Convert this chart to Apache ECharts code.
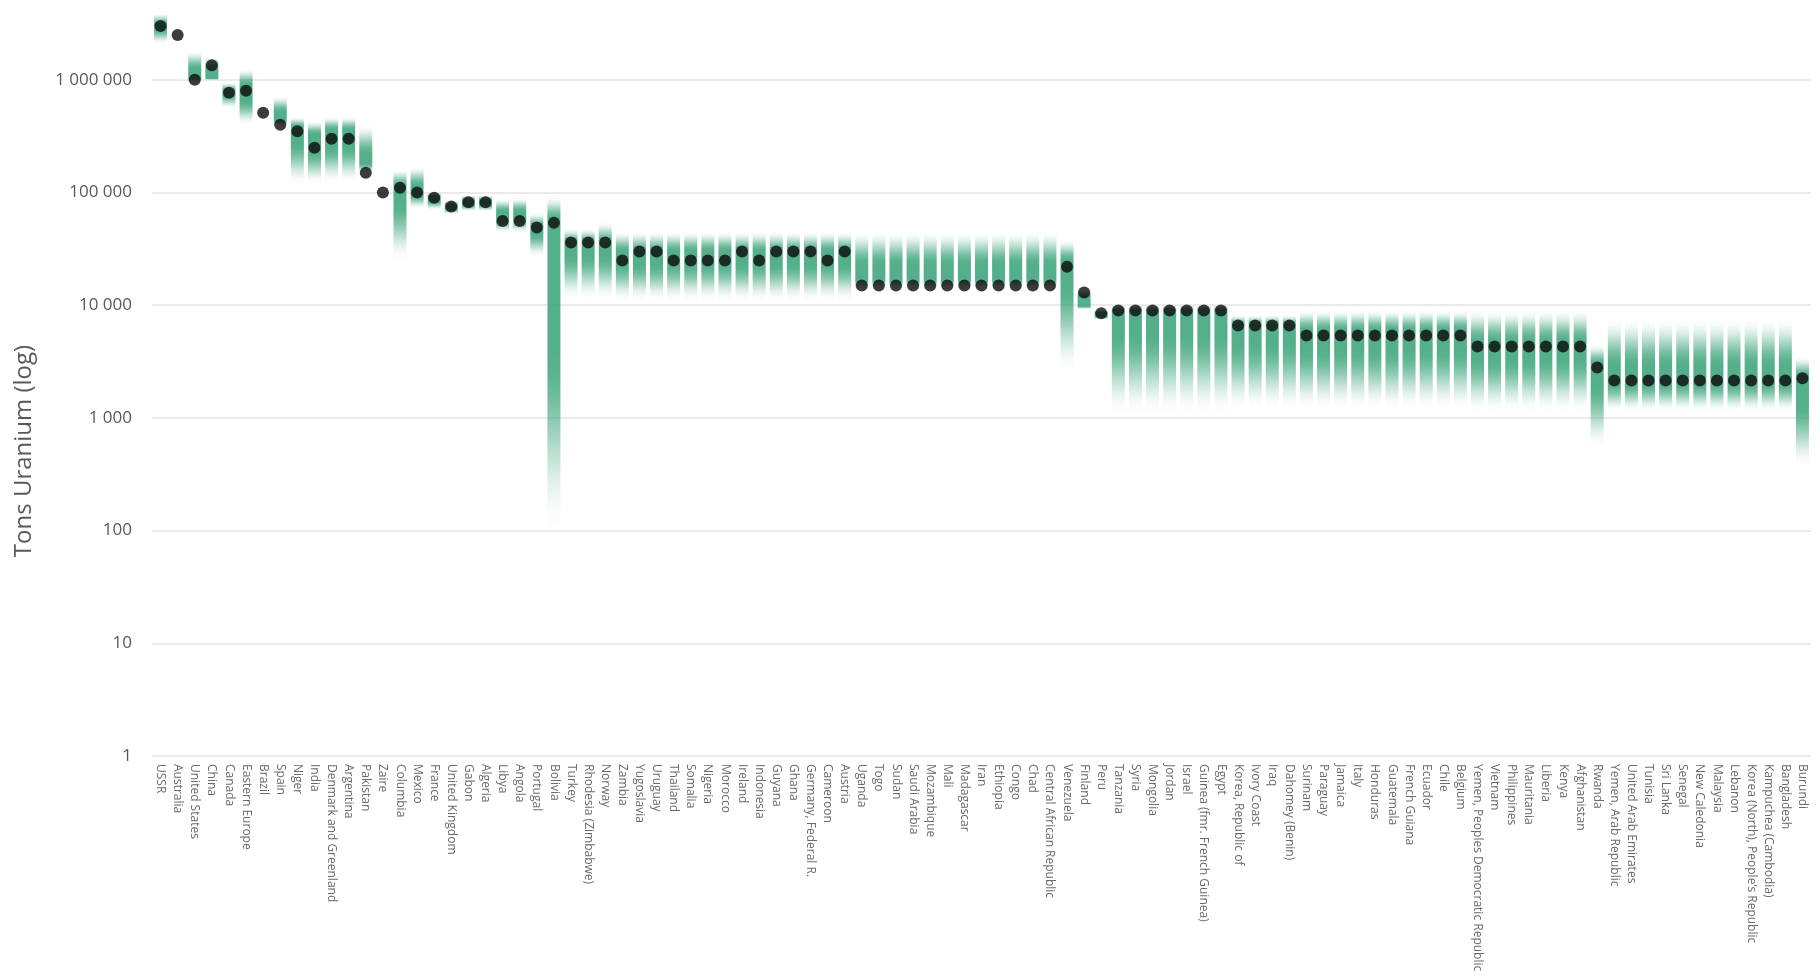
<!DOCTYPE html>
<html><head><meta charset="utf-8">
<script src="https://cdn.jsdelivr.net/npm/echarts@6/dist/echarts.min.js"></script>
<style>html,body{margin:0;padding:0;background:#fff}#c{width:1820px;height:977px}</style>
</head><body><div id="c"></div>
<script>
const categories = ["USSR","Australia","United States","China","Canada","Eastern Europe","Brazil","Spain","Niger","India","Denmark and Greenland","Argentina","Pakistan","Zaire","Columbia","Mexico","France","United Kingdom","Gabon","Algeria","Libya","Angola","Portugal","Bolivia","Turkey","Rhodesia (Zimbabwe)","Norway","Zambia","Yugoslavia","Uruguay","Thailand","Somalia","Nigeria","Morocco","Ireland","Indonesia","Guyana","Ghana","Germany, Federal R.","Cameroon","Austria","Uganda","Togo","Sudan","Saudi Arabia","Mozambique","Mali","Madagascar","Iran","Ethiopia","Congo","Chad","Central African Republic","Venezuela","Finland","Peru","Tanzania","Syria","Mongolia","Jordan","Israel","Guinea (fmr. French Guinea)","Egypt","Korea, Republic of","Ivory Coast","Iraq","Dahomey (Benin)","Surinam","Paraguay","Jamaica","Italy","Honduras","Guatemala","French Guiana","Ecuador","Chile","Belgium","Yemen, Peoples Democratic Republic","Vietnam","Philippines","Mauritania","Liberia","Kenya","Afghanistan","Rwanda","Yemen, Arab Republic","United Arab Emirates","Tunisia","Sri Lanka","Senegal","New Caledonia","Malaysia","Lebanon","Korea (North), People\u2019s Republic","Kampuchea (Cambodia)","Bangladesh","Burundi"];

// point estimate (dot), tons uranium
const estimate = [3000000,2500000,1000000,1350000,770000,800000,510000,400000,350000,250000,300000,300000,150000,100000,110000,100000,90000,75000,82000,82000,56000,56000,49000,54000,36000,36000,36000,25000,30000,30000,25000,25000,25000,25000,30000,25000,30000,30000,30000,25000,30000,
15000,15000,15000,15000,15000,15000,15000,15000,15000,15000,15000,15000,
22000,13000,8500,
9000,9000,9000,9000,9000,9000,9000,
6600,6600,6600,6600,
5400,5400,5400,5400,5400,5400,5400,5400,5400,5400,
4300,4300,4300,4300,4300,4300,4300,
2800,
2150,2150,2150,2150,2150,2150,2150,2150,2150,2150,2150,
2250];

// range of estimates: outer top, dense top, dense bottom, outer bottom (null = no range)
const rangeHigh = [3900000,null,1800000,1600000,950000,1250000,null,720000,470000,430000,470000,470000,400000,null,160000,170000,100000,85000,95000,95000,88000,90000,66000,92000,48000,48000,55000,
45000,45000,45000,45000,45000,45000,45000,45000,45000,45000,45000,45000,45000,45000,
45000,45000,45000,45000,45000,45000,45000,45000,45000,45000,45000,45000,
38000,14000,9000,
10000,10000,10000,10000,10000,10000,10000,
8200,8200,8200,8200,
9000,9000,9000,9000,9000,9000,9000,9000,9000,9000,
9000,9000,9000,9000,9000,9000,9000,
4500,
7500,7500,7500,7500,7500,7500,7500,7500,7500,7500,7500,
3500];
const coreHigh = [3100000,null,1250000,1250000,800000,900000,null,520000,380000,330000,360000,360000,220000,null,115000,115000,92000,77000,85000,85000,68000,68000,50000,58000,36000,36000,36000,
30000,30000,30000,30000,30000,30000,30000,30000,30000,30000,30000,30000,30000,30000,
23000,23000,23000,23000,23000,23000,23000,23000,23000,23000,23000,23000,
25000,12000,8600,
9000,9000,9000,9000,9000,9000,9000,
6700,6700,6700,6700,
6000,6000,6000,6000,6000,6000,6000,6000,6000,6000,
4800,4800,4800,4800,4800,4800,4800,
3000,
2900,2900,2900,2900,2900,2900,2900,2900,2900,2900,2900,
2300];
const coreLow = [2800000,null,1050000,1020000,740000,650000,null,440000,270000,230000,250000,250000,180000,null,80000,95000,84000,72000,78000,78000,58000,58000,43000,4000,27000,27000,27000,
23000,23000,23000,23000,23000,23000,23000,23000,23000,23000,23000,23000,23000,23000,
17000,17000,17000,17000,17000,17000,17000,17000,17000,17000,17000,17000,
15000,9800,8000,
5500,5500,5500,5500,5500,5500,5500,
4500,4500,4500,4500,
4000,4000,4000,4000,4000,4000,4000,4000,4000,4000,
3300,3300,3300,3300,3300,3300,3300,
1900,
2000,2000,2000,2000,2000,2000,2000,2000,2000,2000,2000,
1300];
const rangeLow = [2100000,null,950000,1000000,560000,400000,null,390000,120000,120000,125000,125000,150000,null,25000,72000,70000,64000,68000,68000,44000,44000,27000,100,11500,11500,11500,
11000,11000,11000,11000,11000,11000,11000,11000,11000,11000,11000,11000,11000,11000,
14000,14000,14000,14000,14000,14000,14000,14000,14000,14000,14000,14000,
2600,9200,7400,
1100,1100,1100,1100,1100,1100,1100,
1200,1200,1200,1200,
1200,1200,1200,1200,1200,1200,1200,1200,1200,1200,
1150,1150,1150,1150,1150,1150,1150,
550,
1150,1150,1150,1150,1150,1150,1150,1150,1150,1150,1150,
370];

const yTicks = [1,10,100,1000,10000,100000,1000000];

function fmt(v){ return String(Math.round(v)).replace(/\B(?=(\d{3})+(?!\d))/g,' '); }

const rangeData = [];
categories.forEach((c,i)=>{
  if (rangeHigh[i] != null) rangeData.push([i, rangeHigh[i], coreHigh[i], coreLow[i], rangeLow[i]]);
});

const RGB = '46,158,112';
const A = 0.82;
function col(a){ return 'rgba(' + RGB + ',' + a.toFixed(3) + ')'; }
function renderBar(params, api){
  const i = api.value(0);
  const pHi = api.coord([i, api.value(1)]);
  const pCh = api.coord([i, api.value(2)]);
  const pCl = api.coord([i, api.value(3)]);
  const pLo = api.coord([i, api.value(4)]);
  const w = api.size([1, 0])[0] * 0.76;
  const h = Math.max(1, pLo[1] - pHi[1]);
  const o1 = Math.min(1, Math.max(0, (pCh[1] - pHi[1]) / h));
  const o2 = Math.min(1, Math.max(o1, (pCl[1] - pHi[1]) / h));
  const stops = [];
  const N = 8;
  for (let k = 0; k <= N; k++) {
    const t = k / N;                       // fade in from top
    const e = t * t * (3 - 2 * t);
    stops.push({offset: o1 * t, color: col(A * e)});
  }
  for (let k = 0; k <= N; k++) {
    const t = k / N;                       // fade out to bottom
    const e = 1 - t;
    const s = e * e * (3 - 2 * e);
    stops.push({offset: o2 + (1 - o2) * t, color: col(A * s)});
  }
  return {
    type: 'rect',
    shape: {x: pHi[0] - w/2, y: pHi[1], width: w, height: h},
    style: {fill: new echarts.graphic.LinearGradient(0,0,0,1,stops)}
  };
}

const chart = echarts.init(document.getElementById('c'));
chart.setOption({
  animation: false,
  backgroundColor: '#ffffff',
  grid: {left: 152, right: 9, top: 12, bottom: 221, containLabel: false},
  xAxis: {
    type: 'category', data: categories,
    axisLine: {show: false}, axisTick: {show: false}, splitLine: {show: false},
    axisLabel: {interval: 0, rotate: -90, margin: 8, fontSize: 12, color: '#6a6a6a', fontFamily: 'Open Sans'}
  },
  yAxis: {
    type: 'log', logBase: 10, min: 1, max: 4000000,
    axisLine: {show: false}, axisTick: {show: false},
    splitLine: {show: true, lineStyle: {color: ['#e4e4e4','#e4e4e4','#e4e4e4','#e4e4e4','#e4e4e4','#e4e4e4','#e4e4e4','rgba(0,0,0,0)'], width: 1.5}},
    axisLabel: {
      margin: 20, fontSize: 17, color: '#595959', fontFamily: 'Open Sans', showMaxLabel: false,
      formatter: function(v){
        const l = Math.log10(v);
        if (Math.abs(l - Math.round(l)) < 1e-6 && yTicks.indexOf(Math.round(Math.pow(10, Math.round(l)))) >= 0) return fmt(Math.pow(10, Math.round(l)));
        return '';
      }
    }
  },
  graphic: [{
    type: 'text', x: 24, y: 451, rotation: Math.PI/2,
    style: {text: 'Tons Uranium (log)', fontSize: 24, fill: '#595959', fontFamily: 'Open Sans', align: 'center', verticalAlign: 'middle'}
  }],
  series: [
    {type: 'custom', renderItem: renderBar, data: rangeData, encode: {x: 0, y: [1,2,3,4]}, z: 2, silent: true},
    {type: 'scatter', data: estimate, symbol: 'circle', symbolSize: 12, itemStyle: {color: '#0b0b0b'}, z: 5, silent: true}
  ]
});
</script>
</body></html>
